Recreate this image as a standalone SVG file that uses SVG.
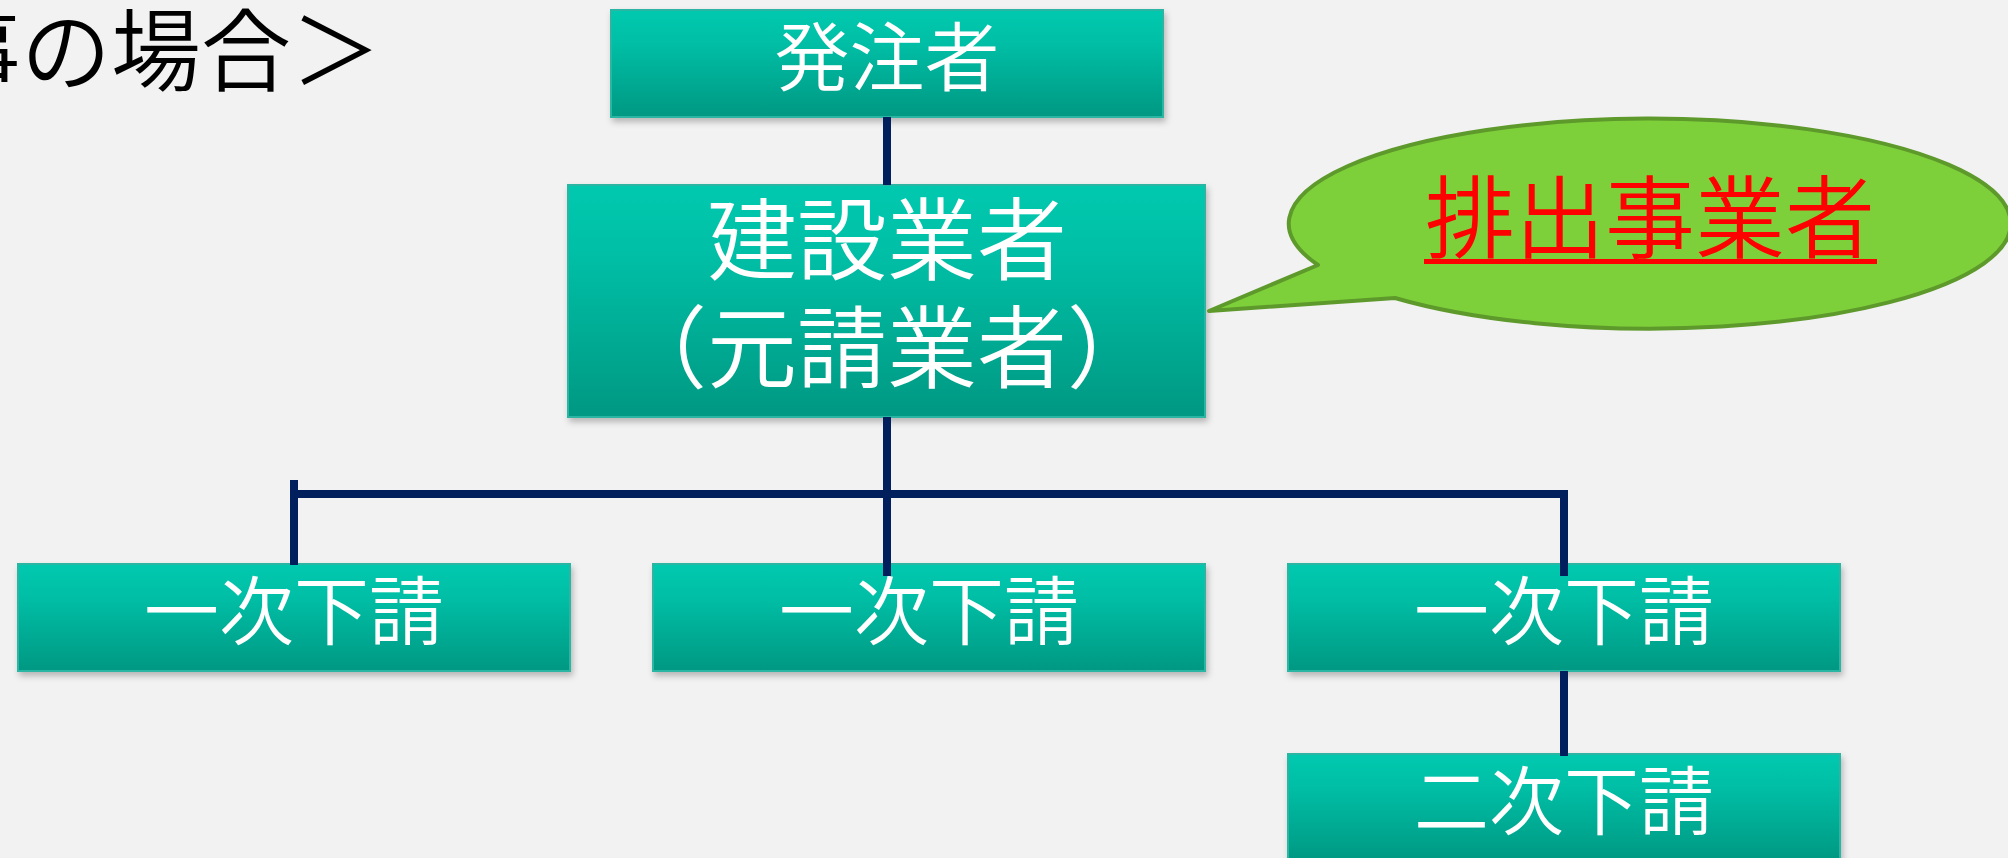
<svg xmlns="http://www.w3.org/2000/svg" width="2008" height="858" viewBox="0 0 2008 858">
<defs>
<linearGradient id="boxg" x1="0" y1="0" x2="0" y2="1">
<stop offset="0" stop-color="#00C9AF"/>
<stop offset="0.3" stop-color="#00BFA6"/>
<stop offset="1" stop-color="#009882"/>
</linearGradient>
<filter id="sh" x="-5%" y="-10%" width="110%" height="130%">
<feDropShadow dx="2" dy="4" stdDeviation="3" flood-color="#000" flood-opacity="0.25"/>
</filter>
</defs>
<style>
.box{fill:url(#boxg);stroke:#2BB6A2;stroke-width:2;filter:url(#sh)}
.lbl{fill:#FFFFFF;font-family:"Noto Sans CJK JP","Noto Sans CJK SC",sans-serif;font-weight:350;text-anchor:middle}
.conn{fill:none;stroke:#001F5C;stroke-width:8;stroke-linecap:butt;stroke-linejoin:miter}
.title{fill:#000;font-family:"Noto Sans CJK JP","Noto Sans CJK SC",sans-serif;font-weight:350;font-size:90px}
</style>
<rect x="0" y="0" width="2008" height="858" fill="#F2F2F2"/>
<text class="title" x="381" y="84" text-anchor="end">＜建設工事の場合＞</text>
<g id="node-hacchusha">
<rect class="box" x="611" y="10" width="552" height="107"/>
<text class="lbl" x="887" y="85" font-size="75">発注者</text>
</g>
<g id="node-kensetsu">
<rect class="box" x="568" y="185" width="637" height="232"/>
<text class="lbl" x="887" y="273" font-size="90">建設業者</text>
<text class="lbl" x="887" y="381" font-size="90">（元請業者）</text>
</g>
<g id="node-ichiji-1">
<rect class="box" x="18" y="564" width="552" height="107"/>
<text class="lbl" x="294" y="639" font-size="75">一次下請</text>
</g>
<g id="node-ichiji-2">
<rect class="box" x="653" y="564" width="552" height="107"/>
<text class="lbl" x="929" y="639" font-size="75">一次下請</text>
</g>
<g id="node-ichiji-3">
<rect class="box" x="1288" y="564" width="552" height="107"/>
<text class="lbl" x="1564" y="639" font-size="75">一次下請</text>
</g>
<g id="node-niji">
<rect class="box" x="1288" y="754" width="552" height="107"/>
<text class="lbl" x="1564" y="829" font-size="75">二次下請</text>
</g>
<g id="connectors">
<path class="conn" d="M887,117 V185"/>
<path class="conn" d="M887,417 V576"/>
<path class="conn" d="M294,480 V565"/>
<path class="conn" d="M294,494 H1564 V576"/>
<path class="conn" d="M1564,671 V756"/>
</g>
<g id="callout">
<path d="M1318,265 L1209,311 L1395,298 A361 105 0 1 0 1318,265 Z" fill="#7ED03B" stroke="#5E9A2B" stroke-width="4" stroke-linejoin="round"/>
<text x="1650" y="251" font-size="90" font-weight="350" fill="#FF0000" text-anchor="middle" font-family="'Noto Sans CJK JP','Noto Sans CJK SC',sans-serif">排出事業者</text>
<line x1="1424" y1="261.5" x2="1877" y2="261.5" stroke="#FF0000" stroke-width="5"/>
</g>
</svg>
